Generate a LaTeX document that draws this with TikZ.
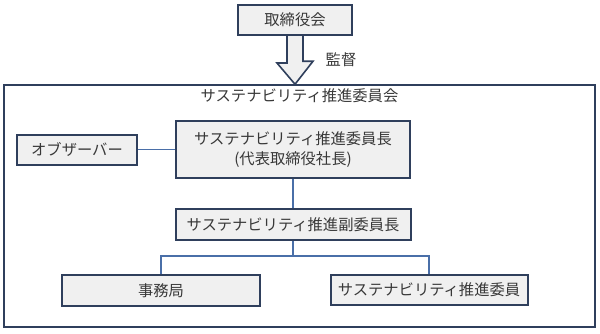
\documentclass[tikz,border=0pt]{standalone}
\usepackage{fontspec}
\setmainfont{Noto Sans CJK JP}
\usetikzlibrary{positioning,calc}

\definecolor{navyLine}{HTML}{2F3F5C}
\definecolor{linkBlue}{HTML}{4A6FA8}
\definecolor{boxFill}{HTML}{F0F0F0}
\definecolor{inkGray}{HTML}{383838}

\begin{document}
\begin{tikzpicture}[
    x=1pt, y=1pt,
    node distance=29pt and 37pt,
    font=\fontsize{15.3}{20}\selectfont,
    text=inkGray,
    orgBox/.style={
        rectangle, draw=navyLine, line width=2pt, fill=boxFill,
        align=center, inner sep=2pt
    },
    outerBox/.style={
        rectangle, draw=navyLine, line width=1.5pt, fill=white
    },
    linkLine/.style={
        line width=1.7pt, draw=linkBlue
    },
    blockArrow/.style={
        line width=1.6pt, draw=navyLine, fill=boxFill, line join=miter
    }
]
\useasboundingbox (0,0) rectangle (600,333);

% Outer committee frame
\node[outerBox, minimum width=591pt, minimum height=242pt] (committee) at (299.5,127) {};
\node[inner sep=0pt, below=4pt of committee.north] (title) {サステナビリティ推進委員会};

% Board and supervision arrow
\node[orgBox, minimum width=114pt, minimum height=30pt] (board) at (295,313) {取締役会};
\coordinate (tip) at (board.south |- committee.north);
\draw[blockArrow] ($(board.south)+(-8,0)$) -- ++(0,-27) -- ++(-10,0) -- (tip)
    -- ++(18,23) -- ++(-10,0) -- ($(board.south)+(8,0)$);
\node (supervise) at (341,273) {監督};

% Committee members
\node[orgBox, minimum width=234pt, minimum height=57pt] (chair) at (293,183.5) {
    サステナビリティ推進委員長\\
    (代表取締役社長)
};
\node[orgBox, minimum width=120pt, minimum height=30pt, left=37pt of chair] (observer) {オブザーバー};
\node[orgBox, minimum width=235pt, minimum height=31pt, below=of chair] (vice) {サステナビリティ推進副委員長};
\node[orgBox, minimum width=198pt, minimum height=31pt, below=33pt of vice, xshift=-132pt] (office) {事務局};
\node[orgBox, minimum width=197pt, minimum height=30pt, below=33pt of vice, xshift=136pt] (members) {サステナビリティ推進委員};

% Links
\draw[linkLine] (observer.east) -- (chair.west);
\draw[linkLine] (chair.south) -- (vice.north);
\draw[linkLine] (vice.south) -- ++(0,-15) -| (office.north);
\draw[linkLine] (vice.south) -- ++(0,-15) -| (members.north);

\end{tikzpicture}
\end{document}
